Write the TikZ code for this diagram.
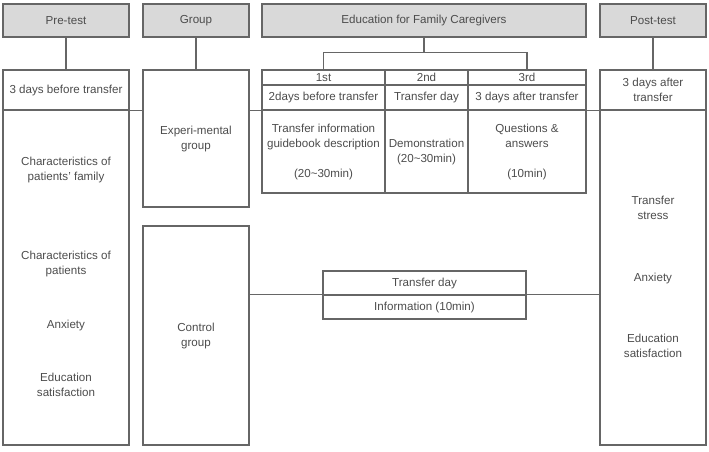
\documentclass[tikz,border=0pt]{standalone}
\usepackage{fontspec}
\setmainfont{Liberation Sans}
\begin{document}
\begin{tikzpicture}[x=1pt, y=-1pt,
    box/.style={draw=black!60, line width=1.1pt, rectangle, inner sep=0pt, align=center, text=black!70},
    head/.style={box, fill=black!15},
    txt/.style={align=center, text=black!70, inner sep=0pt},
    every node/.style={font=\fontsize{11.6}{15}\selectfont}]
      \useasboundingbox (0,0) rectangle (709,451);
      % headers
      \node[head, minimum width=126, minimum height=33] (pre) at (66,20.5) {Pre-test};
      \node[head, minimum width=106, minimum height=33] (grp) at (196,20.5) {Group};
      \node[head, minimum width=324, minimum height=33] (edu) at (424,20.5) {Education for Family Caregivers};
      \node[head, minimum width=106, minimum height=33] (post) at (653,20.5) {Post-test};
      % pre-test column
      \node[box, minimum width=126, minimum height=40] (pretime) at (66,90) {3 days before transfer};
      \node[box, minimum width=126, minimum height=335] (prebody) at (66,277.5) {};
      \node[txt] (pre1) at (66,170) {Characteristics of\\patients' family};
      \node[txt] (pre2) at (66,264) {Characteristics of\\patients};
      \node[txt] (pre3) at (66,325) {Anxiety};
      \node[txt] (pre4) at (66,385) {Education\\satisfaction};
      % groups
      \node[box, minimum width=106, minimum height=137] (exp) at (196,138.5) {Experi-mental\\group};
      \node[box, minimum width=106, minimum height=219] (ctl) at (196,335.5) {Control\\group};
      % education table
      \node[box, minimum width=123, minimum height=15] (n1) at (323.5,77.5) {1st};
      \node[box, minimum width=83, minimum height=15] (n2) at (426.5,77.5) {2nd};
      \node[box, minimum width=118, minimum height=15] (n3) at (527,77.5) {3rd};
      \node[box, minimum width=123, minimum height=25] (d1) at (323.5,97.5) {2days before transfer};
      \node[box, minimum width=83, minimum height=25] (d2) at (426.5,97.5) {Transfer day};
      \node[box, minimum width=118, minimum height=25] (d3) at (527,97.5) {3 days after transfer};
      \node[box, minimum width=123, minimum height=83] (c1) at (323.5,151.5) {Transfer information\\guidebook description\\[15pt](20\textasciitilde30min)};
      \node[box, minimum width=83, minimum height=83] (c2) at (426.5,151.5) {Demonstration\\(20\textasciitilde30min)};
      \node[box, minimum width=118, minimum height=83] (c3) at (527,151.5) {Questions \&\\answers\\[15pt](10min)};
      % control education
      \node[box, minimum width=203, minimum height=24] (tday) at (424.5,283) {Transfer day};
      \node[box, minimum width=203, minimum height=24] (tinfo) at (424.5,307) {Information (10min)};
      % post-test column
      \node[box, minimum width=106, minimum height=40] (posttime) at (653,90) {3 days after\\transfer};
      \node[box, minimum width=106, minimum height=335] (postbody) at (653,277.5) {};
      \node[txt] (post1) at (653,208) {Transfer\\stress};
      \node[txt] (post2) at (653,278) {Anxiety};
      \node[txt] (post3) at (653,346) {Education\\satisfaction};
      % connectors
      \begin{scope}[draw=black!60, line width=1.1pt]
        \draw (pre) -- (pretime);
        \draw (grp) -- (exp.north);
        \draw (post) -- (posttime);
        \path (edu.south) ++(0,15) coordinate (fork);
        \draw (edu.south) -- (fork);
        \draw (n1.north) |- (fork) -| (n3.north);
        \draw (pretime.south east) -- (pretime.south east -| exp.west);
        \draw (exp.east |- d1.south) -- (d1.south west);
        \draw (d3.south east) -- (posttime.south west);
        \draw (ctl.east |- tinfo.north) -- (tinfo.north west);
        \draw (tinfo.north east) -- (postbody.west |- tinfo.north);
      \end{scope}
    \end{tikzpicture}
\end{document}
